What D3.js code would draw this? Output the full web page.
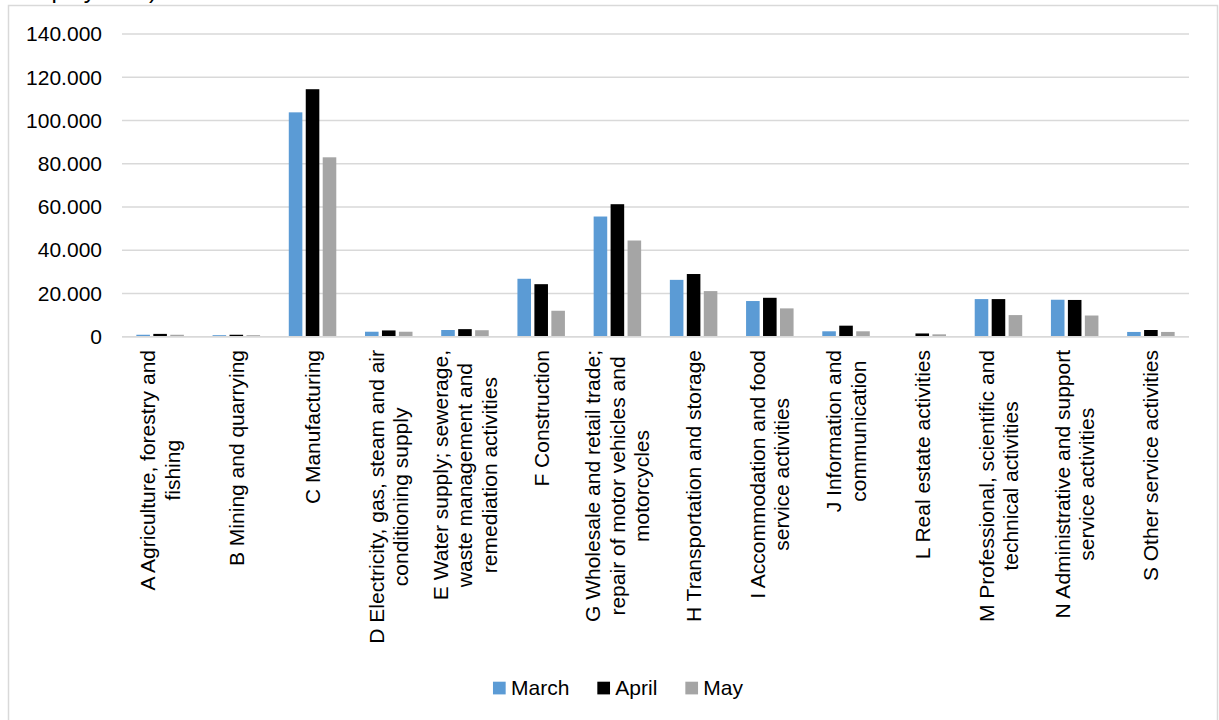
<!DOCTYPE html>
<html>
<head>
<meta charset="utf-8">
<script src="https://cdn.jsdelivr.net/npm/d3@7"></script>
<style>
  html, body { margin: 0; padding: 0; background: #fff; }
  svg { display: block; font-family: "Liberation Sans", Arial, sans-serif; }
</style>
</head>
<body>
<svg id="chart" width="1219" height="720"></svg>
<script>
// Economic activity sections (each entry = label lines)
const categories = [
  ["A Agriculture, forestry and", "fishing"],
  ["B Mining and quarrying"],
  ["C Manufacturing"],
  ["D Electricity, gas, steam and air", "conditioning supply"],
  ["E Water supply; sewerage,", "waste management and", "remediation activities"],
  ["F Construction"],
  ["G Wholesale and retail trade;", "repair of motor vehicles and", "motorcycles"],
  ["H Transportation and storage"],
  ["I Accommodation and food", "service activities"],
  ["J Information and", "communication"],
  ["L Real estate activities"],
  ["M Professional, scientific and", "technical activities"],
  ["N Administrative and support", "service activities"],
  ["S Other service activities"]
];

const seriesNames = ["March", "April", "May"];
const march = [900, 700, 103800, 2300, 3100, 26800, 55600, 26300, 16500, 2500, 300, 17400, 17100, 2200];
const april = [1300, 900, 114500, 2900, 3500, 24300, 61300, 29000, 18000, 5100, 1500, 17400, 17000, 3100];
const may   = [900, 700, 83000, 2300, 3000, 12000, 44500, 21100, 13100, 2500, 1100, 10000, 9800, 2200];
const yTicks = [0, 20000, 40000, 60000, 80000, 100000, 120000, 140000];
const colors = ["#5B9BD5", "#000000", "#A5A5A5"];

const series = [march, april, may];
const svg = d3.select("#chart");
const FONT = 21;

// Outer chart frame
svg.append("rect")
  .attr("x", 8.5).attr("y", 5.5)
  .attr("width", 1209).attr("height", 730)
  .attr("fill", "#fff").attr("stroke", "#D9D9D9").attr("stroke-width", 1.5);

// Heading sitting above the frame (only its lower edge is in view)
svg.append("text")
  .attr("x", 157).attr("y", -2)
  .attr("text-anchor", "end")
  .attr("font-size", 24)
  .attr("fill", "#000")
  .text("employment)");

const x0 = d3.scaleBand()
  .domain(d3.range(categories.length))
  .range([122, 1189])
  .paddingInner(0).paddingOuter(0);

const bw = x0.bandwidth();
const x1 = d3.scaleBand()
  .domain(d3.range(seriesNames.length))
  .range([bw / 2 - 23.75, bw / 2 + 23.75])
  .paddingInner(0.2).paddingOuter(0);

const y = d3.scaleLinear().domain([0, 140000]).range([336.7, 34.1]);

const locale = d3.formatLocale({ decimal: ",", thousands: ".", grouping: [3], currency: ["", ""] });
const fmt = locale.format(",.0f");

// Gridlines
svg.append("g")
  .selectAll("line")
  .data(yTicks)
  .join("line")
  .attr("x1", 122).attr("x2", 1189)
  .attr("y1", d => y(d)).attr("y2", d => y(d))
  .attr("stroke", "#D9D9D9").attr("stroke-width", 1.5);

// Value axis labels
const yAxis = d3.axisLeft(y).tickValues(yTicks).tickFormat(fmt).tickSize(0).tickPadding(0);
const gy = svg.append("g").attr("transform", "translate(102,0)").call(yAxis);
gy.select(".domain").remove();
gy.selectAll("text")
  .attr("font-size", FONT)
  .attr("font-family", "'Liberation Sans', Arial, sans-serif")
  .attr("fill", "#000");

// Bars
const groups = svg.append("g")
  .selectAll("g")
  .data(categories.map((c, i) => i))
  .join("g")
  .attr("transform", i => `translate(${x0(i)},0)`);

groups.selectAll("rect")
  .data(i => series.map((s, k) => ({ k, v: s[i] })))
  .join("rect")
  .attr("x", d => x1(d.k))
  .attr("width", x1.bandwidth())
  .attr("y", d => y(d.v))
  .attr("height", d => y(0) - y(d.v))
  .attr("fill", d => colors[d.k]);

// Baseline
svg.append("line")
  .attr("x1", 122).attr("x2", 1189)
  .attr("y1", y(0)).attr("y2", y(0))
  .attr("stroke", "#D9D9D9").attr("stroke-width", 1.5);

// Rotated category labels, block aligned to the top just under the axis
const LINE = 24.5;
const labelTop = 350;
categories.forEach((lines, i) => {
  const cx = x0(i) + bw / 2;
  const g = svg.append("g")
    .attr("transform", `translate(${cx},${labelTop}) rotate(-90)`);
  const texts = lines.map((ln, j) => g.append("text")
    .attr("font-size", FONT)
    .attr("fill", "#000")
    .attr("text-anchor", "middle")
    .attr("dy", "0.35em")
    .attr("y", (j - (lines.length - 1) / 2) * LINE)
    .text(ln));
  const maxW = d3.max(texts, t => t.node().getComputedTextLength());
  texts.forEach(t => t.attr("x", -maxW / 2));
});

// Legend
const legend = svg.append("g");
let lx = 0;
seriesNames.forEach((name, k) => {
  const it = legend.append("g").attr("transform", `translate(${lx},0)`);
  it.append("rect").attr("x", 0).attr("y", -6.3).attr("width", 12.7).attr("height", 12.7).attr("fill", colors[k]);
  const t = it.append("text").attr("x", 18).attr("dy", "0.35em")
    .attr("font-size", FONT).attr("fill", "#000").text(name);
  lx += 18 + t.node().getComputedTextLength() + 28;
});
const totalW = lx - 28;
legend.attr("transform", `translate(${618 - totalW / 2},688)`);
</script>
</body>
</html>
